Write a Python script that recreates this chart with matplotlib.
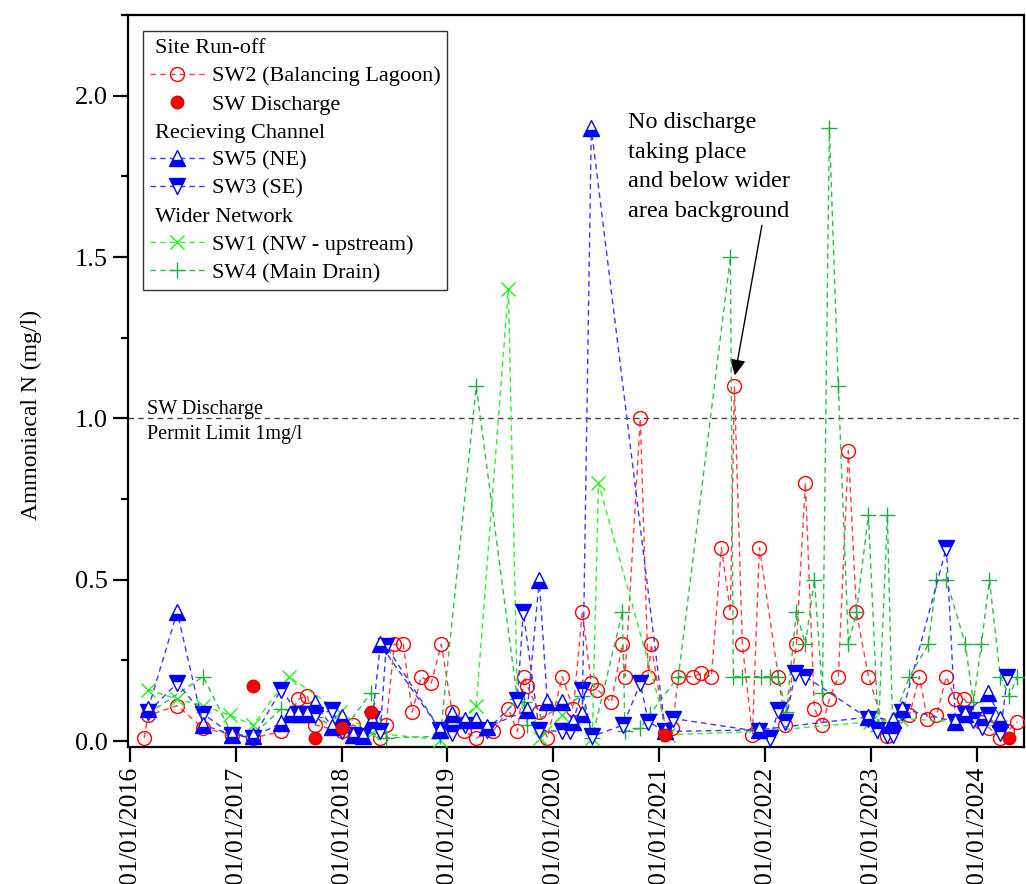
import matplotlib
matplotlib.use("Agg")
import matplotlib.pyplot as plt
from matplotlib.lines import Line2D
from matplotlib.ticker import MultipleLocator, FixedLocator

plt.rcParams['font.family'] = ['Liberation Serif', 'DejaVu Serif']

# sampling dates as decimal years, ammoniacal N in mg/l
sw2_t = [2016.137, 2016.175, 2016.449, 2016.694, 2016.968, 2017.166, 2017.431, 2017.591, 2017.676, 2017.752,
         2018.007, 2018.111, 2018.366, 2018.422, 2018.498, 2018.583, 2018.668, 2018.753, 2018.847, 2018.942,
         2019.045, 2019.159, 2019.272, 2019.432, 2019.575, 2019.660, 2019.726, 2019.754, 2019.867, 2019.943,
         2020.084, 2020.188, 2020.273, 2020.358, 2020.415, 2020.547, 2020.651, 2020.676, 2020.821, 2020.896,
         2020.924, 2021.057, 2021.123, 2021.180, 2021.321, 2021.397, 2021.492, 2021.586, 2021.671, 2021.709,
         2021.784, 2021.879, 2021.945, 2022.124, 2022.190, 2022.294, 2022.379, 2022.464, 2022.540, 2022.605,
         2022.690, 2022.785, 2022.861, 2022.974, 2023.153, 2023.361, 2023.455, 2023.530, 2023.616, 2023.710,
         2023.795, 2023.880, 2024.040, 2024.116, 2024.219, 2024.286, 2024.380]
sw2_v = [0.01, 0.08, 0.11, 0.04, 0.02, 0.01, 0.03, 0.13, 0.14, 0.05,
         0.03, 0.05, 0.01, 0.05, 0.30, 0.30, 0.09, 0.20, 0.18, 0.30,
         0.09, 0.03, 0.01, 0.03, 0.10, 0.03, 0.20, 0.17, 0.09, 0.01,
         0.20, 0.10, 0.40, 0.18, 0.16, 0.12, 0.30, 0.20, 1.00, 0.20,
         0.30, 0.025, 0.04, 0.20, 0.20, 0.21, 0.20, 0.60, 0.40, 1.10,
         0.30, 0.02, 0.60, 0.20, 0.05, 0.30, 0.80, 0.10, 0.05, 0.13,
         0.20, 0.90, 0.40, 0.20, 0.015, 0.08, 0.20, 0.07, 0.08, 0.20,
         0.13, 0.13, 0.06, 0.04, 0.01, 0.03, 0.06]

discharge_t = [2017.166, 2017.752, 2018.007, 2018.280, 2021.057, 2024.304]
discharge_v = [0.17, 0.01, 0.04, 0.09, 0.02, 0.01]

sw5_t = [2016.175, 2016.449, 2016.694, 2016.968, 2017.166, 2017.431, 2017.516, 2017.591, 2017.676, 2017.752,
         2017.912, 2018.007, 2018.111, 2018.206, 2018.290, 2018.366, 2018.932, 2019.045, 2019.168, 2019.272,
         2019.376, 2019.754, 2019.867, 2019.943, 2020.084, 2020.188, 2020.273, 2020.358, 2021.057, 2021.945,
         2022.974, 2023.210, 2023.295, 2023.795, 2023.889, 2024.107, 2024.219]
sw5_v = [0.10, 0.40, 0.05, 0.02, 0.015, 0.055, 0.085, 0.085, 0.085, 0.117,
         0.044, 0.075, 0.02, 0.015, 0.065, 0.30, 0.035, 0.085, 0.065, 0.065,
         0.044, 0.096, 0.50, 0.12, 0.12, 0.06, 0.085, 1.90, 0.03, 0.035,
         0.075, 0.065, 0.10, 0.06, 0.085, 0.15, 0.07]

sw3_t = [2016.175, 2016.449, 2016.694, 2016.968, 2017.166, 2017.431, 2017.591, 2017.676, 2017.752, 2017.912,
         2018.007, 2018.111, 2018.206, 2018.290, 2018.366, 2018.422, 2018.932, 2019.045, 2019.168, 2019.376,
         2019.660, 2019.716, 2019.867, 2020.084, 2020.160, 2020.273, 2020.367, 2020.660, 2020.821, 2020.896,
         2021.057, 2021.132, 2021.945, 2022.048, 2022.124, 2022.190, 2022.284, 2022.379, 2022.974, 2023.059,
         2023.153, 2023.210, 2023.295, 2023.710, 2023.795, 2023.889, 2023.965, 2024.050, 2024.107, 2024.219,
         2024.286]
sw3_v = [0.09, 0.18, 0.085, 0.02, 0.01, 0.16, 0.085, 0.085, 0.08, 0.096,
         0.03, 0.02, 0.015, 0.07, 0.03, 0.295, 0.035, 0.025, 0.05, 0.035,
         0.127, 0.40, 0.034, 0.03, 0.03, 0.16, 0.015, 0.05, 0.18, 0.06,
         0.03, 0.07, 0.03, 0.01, 0.096, 0.06, 0.21, 0.20, 0.07, 0.034,
         0.02, 0.02, 0.09, 0.60, 0.06, 0.085, 0.065, 0.044, 0.08, 0.024,
         0.20]

sw1_t = [2016.175, 2016.449, 2016.694, 2016.949, 2017.166, 2017.506, 2017.988, 2018.290, 2018.932, 2019.272,
         2019.575, 2019.660, 2019.876, 2020.084, 2020.367, 2020.426, 2021.085, 2021.945, 2022.992, 2023.285,
         2023.795, 2024.219]
sw1_v = [0.16, 0.13, 0.11, 0.08, 0.05, 0.20, 0.09, 0.025, 0.005, 0.11,
         1.40, 0.13, 0.01, 0.08, 0.01, 0.80, 0.02, 0.03, 0.06, 0.07,
         0.06, 0.045]

sw4_t = [2016.175, 2016.694, 2016.968, 2017.166, 2017.431, 2017.752, 2018.007, 2018.280, 2018.422, 2018.932,
         2019.272, 2019.660, 2019.726, 2019.754, 2020.273, 2020.367, 2020.651, 2020.676, 2020.821, 2020.915,
         2021.180, 2021.671, 2021.699, 2021.784, 2021.964, 2022.048, 2022.124, 2022.199, 2022.294, 2022.379,
         2022.464, 2022.540, 2022.605, 2022.690, 2022.785, 2022.861, 2022.974, 2023.068, 2023.153, 2023.201,
         2023.361, 2023.540, 2023.616, 2023.710, 2023.889, 2023.965, 2024.040, 2024.116, 2024.219, 2024.304,
         2024.380]
sw4_v = [0.085, 0.20, 0.02, 0.02, 0.10, 0.075, 0.03, 0.15, 0.01, 0.015,
         1.10, 0.13, 0.12, 0.05, 0.14, 0.01, 0.40, 0.03, 0.04, 0.085,
         0.20, 1.50, 0.20, 0.20, 0.20, 0.20, 0.20, 0.09, 0.40, 0.30,
         0.50, 0.15, 1.90, 1.10, 0.30, 0.40, 0.70, 0.03, 0.70, 0.06,
         0.20, 0.30, 0.50, 0.50, 0.30, 0.12, 0.30, 0.50, 0.20, 0.14,
         0.20]

years = list(range(2016, 2025))
year_labels = ["01/01/%d" % y for y in years]
y_ticks = [0.0, 0.5, 1.0, 1.5, 2.0]

dash = (0, (4, 3))

fig = plt.figure(figsize=(10.26, 8.84), dpi=100)
ax = fig.add_subplot(111)
fig.subplots_adjust(left=0.1248, right=0.9985, bottom=0.155, top=0.983)

l_sw2, = ax.plot(sw2_t, sw2_v, linestyle=dash, lw=1, color="#ff4040", marker="o", ms=10,
                 mfc="none", mec="#ff0000", mew=1, zorder=3)
l_sw1, = ax.plot(sw1_t, sw1_v, linestyle=dash, lw=1, color="#33ee33", marker="x", ms=10,
                 mec="#22ee22", mew=1, zorder=4)
l_sw4, = ax.plot(sw4_t, sw4_v, linestyle=dash, lw=1, color="#2ebf4a", marker="+", ms=11,
                 mec="#1fb040", mew=1, zorder=4)
l_sw3, = ax.plot(sw3_t, sw3_v, linestyle=dash, lw=1, color="#3a3aff", marker="v", ms=11,
                 fillstyle="top", mfc="#0000ff", mfcalt="white", mec="#0000ff", mew=1, zorder=5)
l_sw5, = ax.plot(sw5_t, sw5_v, linestyle=dash, lw=1, color="#3a3aff", marker="^", ms=11,
                 fillstyle="bottom", mfc="#0000ff", mfcalt="white", mec="#0000ff", mew=1, zorder=5)
l_dis, = ax.plot(discharge_t, discharge_v, linestyle="none", marker="o", ms=9,
                 mfc="#ff0000", mec="#e00000", zorder=6)

ax.axhline(1.0, color="#444444", linestyle=dash, lw=1, zorder=2)
ax.text(2016.166, 0.99, "SW Discharge\nPermit Limit 1mg/l", fontsize=14.5, ha="left", va="center",
        linespacing=1.45)

ax.text(2020.707, 1.95, "No discharge\ntaking place\nand below wider\narea background",
        fontsize=17.5, ha="left", va="top", linespacing=1.55)
ax.annotate("", xy=(2021.709, 1.125), xytext=(2021.973, 1.607),
            arrowprops=dict(arrowstyle="-|>", color="black", lw=1, mutation_scale=24))

ax.set_xlim(2015.985, 2024.447)
ax.set_ylim(-0.018, 2.25)
ax.xaxis.set_major_locator(FixedLocator(years))
ax.set_xticklabels(year_labels, rotation=90, fontsize=18.5)
ax.set_yticks(y_ticks)
ax.set_yticklabels(["%.1f" % v for v in y_ticks], fontsize=19)
ax.yaxis.set_minor_locator(MultipleLocator(0.25))
ax.tick_params(axis="both", which="major", direction="out", length=11, width=1.6)
ax.tick_params(axis="y", which="minor", direction="out", length=5, width=1.6)
for sp in ax.spines.values():
    sp.set_linewidth(1.6)
ax.set_ylabel("Ammoniacal N (mg/l)", fontsize=17)
ax.yaxis.set_label_coords(-0.096, 0.454)

# legend with group headings
headers = ["Site Run-off", "Recieving Channel", "Wider Network"]
blank = Line2D([], [], linestyle="none")
handles = [blank, l_sw2, l_dis, blank, l_sw5, l_sw3, blank, l_sw1, l_sw4]
labels = [headers[0], "SW2 (Balancing Lagoon)", "SW Discharge",
          headers[1], "SW5 (NE)", "SW3 (SE)",
          headers[2], "SW1 (NW - upstream)", "SW4 (Main Drain)"]
hl, hp = 2.5, 0.3
leg = ax.legend(handles, labels, loc="upper left", bbox_to_anchor=(0.0167, 0.978), fontsize=16,
                frameon=True, fancybox=False, edgecolor="#333333", framealpha=1, numpoints=1,
                handlelength=hl, handletextpad=hp, labelspacing=0.34, borderpad=0.3, borderaxespad=0)
leg.get_frame().set_linewidth(1.0)
shift = (hl + hp) * 16 * 100 / 72 - 5
for txt in leg.get_texts():
    if txt.get_text() in headers:
        txt.set_x(-shift)

fig.savefig("out.png", dpi=100)
